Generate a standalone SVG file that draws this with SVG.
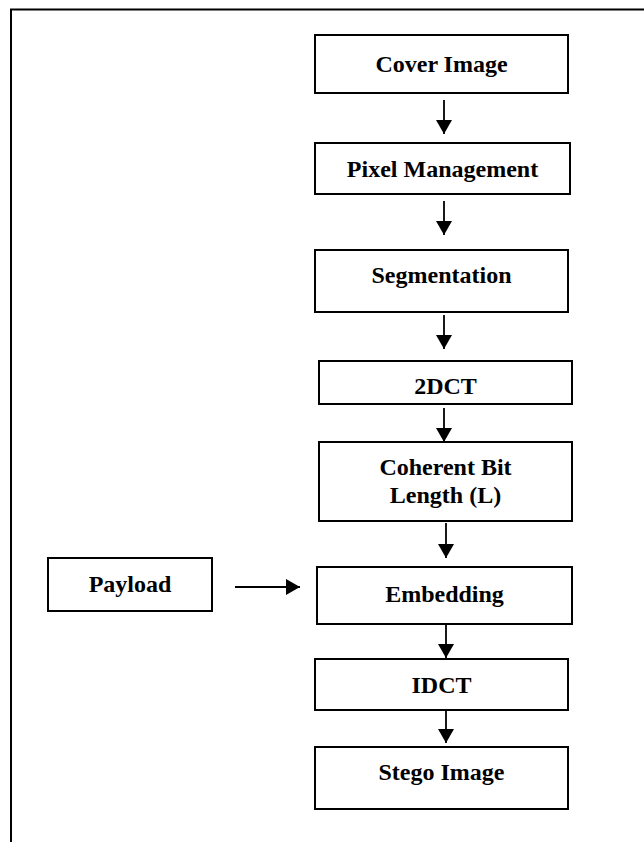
<svg xmlns="http://www.w3.org/2000/svg" width="644" height="842" viewBox="0 0 644 842">
  <defs>
    <marker id="arrow" viewBox="0 0 14 16" refX="14" refY="8" markerWidth="14" markerHeight="16" markerUnits="userSpaceOnUse" orient="auto">
      <path d="M0,0 L14,8 L0,16 Z" fill="#000"/>
    </marker>
    <style>
      .box { fill: #fff; stroke: #000; stroke-width: 2; }
      .lbl { font-family: "Liberation Serif", "Times New Roman", serif; font-weight: bold; font-size: 24px; fill: #000; text-anchor: middle; }
      .edge { fill: none; stroke: #000; stroke-width: 1.8; marker-end: url(#arrow); }
      .frame { fill: none; stroke: #000; stroke-width: 2; }
    </style>
  </defs>
  <rect width="644" height="842" fill="#fff"/>
  <!-- outer frame -->
  <path class="frame" d="M11,842 V9.5 H644"/>

  <g id="cover-image">
    <rect class="box" x="315" y="35" width="253" height="58"/>
    <text class="lbl" x="441.5" y="72">Cover Image</text>
  </g>
  <g id="pixel-management">
    <rect class="box" x="315" y="143" width="255" height="51"/>
    <text class="lbl" x="442.5" y="177">Pixel Management</text>
  </g>
  <g id="segmentation">
    <rect class="box" x="315" y="250" width="253" height="62"/>
    <text class="lbl" x="441.5" y="283">Segmentation</text>
  </g>
  <g id="dct2">
    <rect class="box" x="319" y="361" width="253" height="43"/>
    <text class="lbl" x="445.5" y="394">2DCT</text>
  </g>
  <g id="coherent-bit-length">
    <rect class="box" x="319" y="442" width="253" height="79"/>
    <text class="lbl" x="445.5" y="475">Coherent Bit</text>
    <text class="lbl" x="445.5" y="503">Length (L)</text>
  </g>
  <g id="payload">
    <rect class="box" x="48" y="558" width="164" height="53"/>
    <text class="lbl" x="130" y="592">Payload</text>
  </g>
  <g id="embedding">
    <rect class="box" x="317" y="567" width="255" height="57"/>
    <text class="lbl" x="444.5" y="602">Embedding</text>
  </g>
  <g id="idct">
    <rect class="box" x="315" y="659" width="253" height="51"/>
    <text class="lbl" x="441.5" y="693">IDCT</text>
  </g>
  <g id="stego-image">
    <rect class="box" x="315" y="747" width="253" height="62"/>
    <text class="lbl" x="441.5" y="780">Stego Image</text>
  </g>

  <g id="connectors">
    <line class="edge" x1="444" y1="100" x2="444" y2="134"/>
    <line class="edge" x1="444" y1="201" x2="444" y2="235"/>
    <line class="edge" x1="444" y1="315" x2="444" y2="349"/>
    <line class="edge" x1="444" y1="408" x2="444" y2="442"/>
    <line class="edge" x1="446" y1="523" x2="446" y2="558"/>
    <line class="edge" x1="235" y1="587" x2="300" y2="587"/>
    <line class="edge" x1="446" y1="624" x2="446" y2="658"/>
    <line class="edge" x1="446" y1="710" x2="446" y2="743"/>
  </g>
</svg>
